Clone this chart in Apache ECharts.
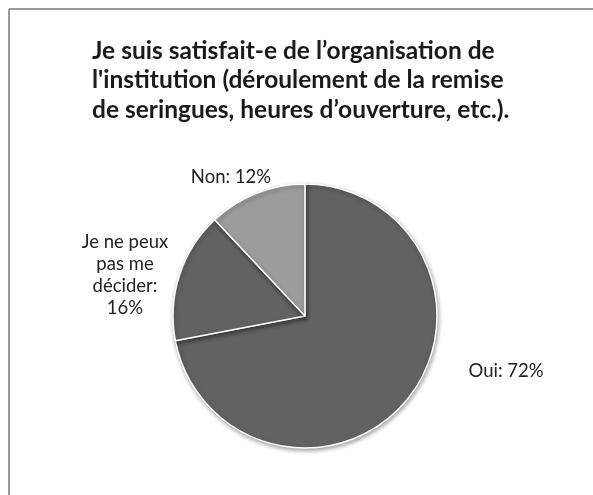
<!DOCTYPE html>
<html>
<head>
<meta charset="utf-8">
<script src="https://cdn.jsdelivr.net/npm/echarts@6/dist/echarts.min.js"></script>
<style>
  html, body { margin: 0; padding: 0; background: #fff; }
  #chart { width: 593px; height: 495px; }
</style>
</head>
<body>
<div id="chart"></div>
<script>
// données du graphique
var categories = ['Oui', 'Je ne peux pas me décider', 'Non'];
var values = [72, 16, 12];
var colors = ['#626262', '#626262', '#9c9c9c'];
var titleText = 'Je suis satisfait-e de l\u2019organisation de\nl\'institution (déroulement de la remise\nde seringues, heures d\u2019ouverture, etc.).';

var chart = echarts.init(document.getElementById('chart'));

// position des étiquettes (comme dans Excel)
var labelPos = [[506, 371], [125, 275], [231, 177]];

var option = {
    backgroundColor: '#fff',
    animation: false,
    title: {
        text: titleText,
        left: 87,
        top: 31,
        textStyle: {
            fontFamily: 'Lato',
            fontWeight: 'bold',
            fontSize: 24.5,
            lineHeight: 29.5,
            color: '#1a1a1a'
        }
    },
    graphic: [
        { type: 'line', shape: { x1: 9, y1: 9, x2: 593, y2: 9 }, style: { stroke: '#999', lineWidth: 2 } },
        { type: 'line', shape: { x1: 9, y1: 9, x2: 9, y2: 495 }, style: { stroke: '#999', lineWidth: 2 } }
    ],
    series: [{
        type: 'pie',
        center: [305, 316],
        radius: 132,
        startAngle: 90,
        clockwise: true,
        label: {
            show: true,
            position: 'outside',
            fontFamily: 'Lato',
            fontSize: 18.5,
            lineHeight: 22,
            color: '#222',
            align: 'center',
            formatter: function (p) {
                if (p.dataIndex === 1) return 'Je ne peux\npas me\ndécider:\n' + p.value + '%';
                return p.name + ': ' + p.value + '%';
            }
        },
        labelLine: { show: false },
        labelLayout: function (params) {
            var pos = labelPos[params.dataIndex];
            return { x: pos[0], y: pos[1], align: 'center', verticalAlign: 'middle' };
        },
        itemStyle: {
            borderColor: '#fff',
            borderWidth: 1.5,
            shadowBlur: 4,
            shadowOffsetX: 1,
            shadowOffsetY: 2,
            shadowColor: 'rgba(0,0,0,0.35)'
        },
        emphasis: { disabled: true },
        data: categories.map(function (c, i) {
            return { name: c, value: values[i], itemStyle: { color: colors[i] } };
        })
    }]
};
chart.setOption(option);
</script>
</body>
</html>
